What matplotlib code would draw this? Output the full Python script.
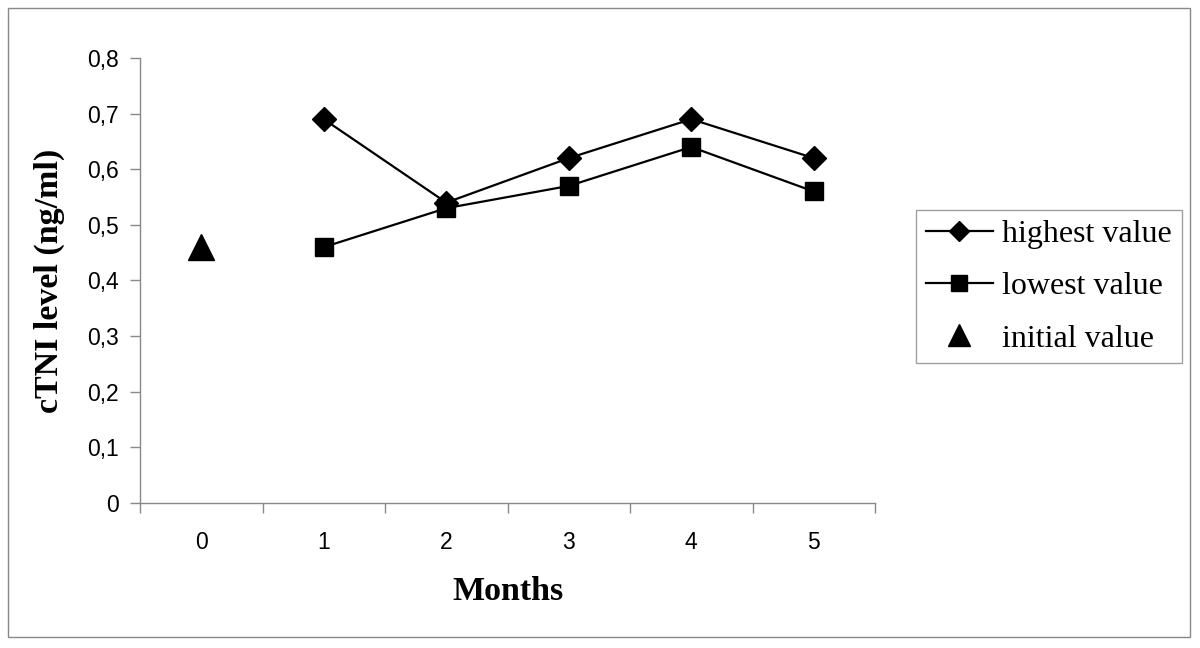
import matplotlib.pyplot as plt
from matplotlib.patches import Rectangle
from matplotlib.ticker import FuncFormatter

# Data
months = [0, 1, 2, 3, 4, 5]
high_x = [1, 2, 3, 4, 5]
highest = [0.69, 0.54, 0.62, 0.69, 0.62]
low_x = [1, 2, 3, 4, 5]
lowest = [0.46, 0.53, 0.57, 0.64, 0.56]
init_x = [0]
initial = [0.46]

fig = plt.figure(figsize=(12, 6.48), dpi=100)
ax = fig.add_axes([0.1167, 0.2238, 0.6125, 0.6867])

ax.plot(high_x, highest, color='black', lw=1.6, marker='D', ms=12, label='highest value')
ax.plot(low_x, lowest, color='black', lw=1.6, marker='s', ms=13, label='lowest value')
ax.plot(init_x, initial, color='black', lw=0, marker='^', ms=18.5, label='initial value')

ax.set_xlim(-0.5, 5.5)
ax.set_ylim(0, 0.8)
ax.set_yticks([i / 10 for i in range(9)])
ax.yaxis.set_major_formatter(FuncFormatter(lambda v, p: '0' if v == 0 else f'{v:.1f}'.replace('.', ',')))

# category axis: labels at centers, tick marks between categories
ax.set_xticks(months)
ax.set_xticklabels([str(m) for m in months])
ax.set_xticks([m - 0.5 for m in months] + [5.5], minor=True)
ax.tick_params(axis='x', which='major', length=0, pad=20)
ax.tick_params(axis='x', which='minor', length=7, color='#888888', width=1)
ax.tick_params(axis='y', length=7, color='#888888', width=1, pad=8)
for lab in ax.get_xticklabels() + ax.get_yticklabels():
    lab.set_fontfamily('Liberation Sans')
    lab.set_fontsize(16.5)

for s in ['top', 'right']:
    ax.spines[s].set_visible(False)
for s in ['left', 'bottom']:
    ax.spines[s].set_color('#888888')
    ax.spines[s].set_linewidth(1)

ax.set_xlabel('Months', fontfamily='Liberation Serif', fontweight='bold', fontsize=24.5, labelpad=16)
ax.set_ylabel('cTNI level (ng/ml)', fontfamily='Liberation Serif', fontweight='bold', fontsize=24.5, labelpad=16)

leg = ax.legend(loc='upper left', bbox_to_anchor=(916 / 1200, 1 - 210 / 648),
                bbox_transform=fig.transFigure, borderaxespad=0, frameon=True, fancybox=False,
                prop={'family': 'Liberation Serif', 'size': 23}, handlelength=2.1,
                borderpad=0.3, labelspacing=0.72, handletextpad=0.3, markerscale=0.85)
leg.get_frame().set_edgecolor('#888888')
leg.get_frame().set_linewidth(1)

# outer chart border
fig.patches.append(Rectangle((8 / 1200, 1 - 637 / 648), 1182 / 1200, 629 / 648,
                             transform=fig.transFigure, fill=False, edgecolor='#888888', lw=1))

plt.savefig('out.png', dpi=100)
